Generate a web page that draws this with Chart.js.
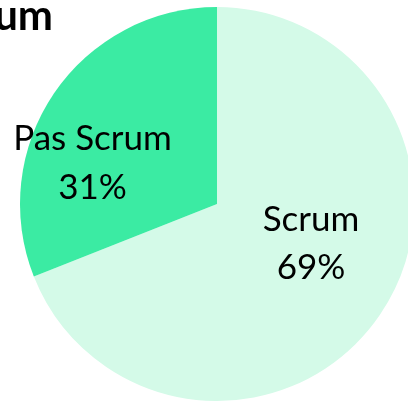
<!DOCTYPE html>
<html><head><meta charset="utf-8">
<script src="https://cdn.jsdelivr.net/npm/chart.js@4"></script>
<style>html,body{margin:0;padding:0;overflow:hidden;background:#fff;width:408px;height:402px}
#c{position:absolute;left:0;top:0}</style>
</head><body>
<canvas id="c" width="440" height="412"></canvas>
<script>
const titleText = "Scrum";
const categories = ["Scrum", "Pas Scrum"];
const values = [69, 31];
const percentLabels = ["69%", "31%"];
const colors = ["#D4FAE8", "#3BEBA3"];
// label anchor offsets as fractions of the radius (layout only)
const labelOffsets = [[0.477, 0.137], [-0.632, -0.274]];

const labelPlugin = {
  id: 'labels',
  afterDatasetsDraw(chart) {
    const ctx = chart.ctx;
    const meta = chart.getDatasetMeta(0);
    ctx.save();
    ctx.fillStyle = '#000';
    ctx.textAlign = 'center';
    ctx.textBaseline = 'alphabetic';
    ctx.font = '35px Lato';
    meta.data.forEach((arc, i) => {
      const r = arc.outerRadius;
      const x = arc.x + labelOffsets[i][0] * r;
      const y = arc.y + labelOffsets[i][1] * r;
      ctx.fillText(categories[i], x, y);
      ctx.fillText(percentLabels[i], x, y + 48.5);
    });
    ctx.font = 'bold 42px Lato';
    ctx.textAlign = 'right';
    ctx.fillText(titleText, 53, 30);
    ctx.restore();
  }
};

new Chart(document.getElementById('c'), {
  type: 'pie',
  data: {
    labels: categories,
    datasets: [{ data: values, backgroundColor: colors, borderWidth: 0 }]
  },
  options: {
    responsive: false,
    animation: false,
    layout: { padding: { left: 20, top: 7, right: 26, bottom: 11 } },
    plugins: { legend: { display: false }, tooltip: { enabled: false }, title: { display: false } }
  },
  plugins: [labelPlugin]
});
</script>
</body></html>
